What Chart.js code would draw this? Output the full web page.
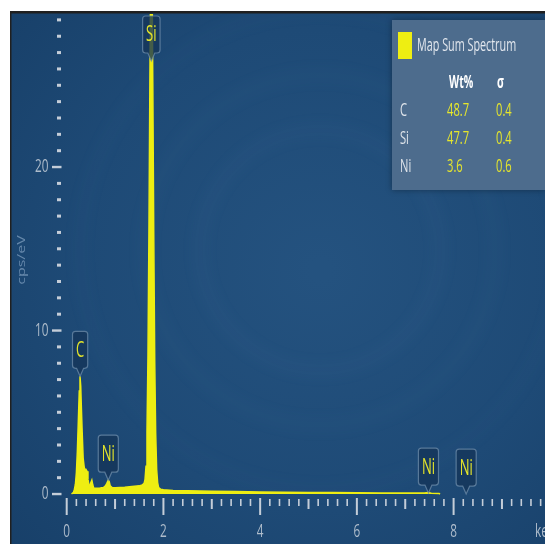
<!DOCTYPE html>
<html>
<head>
<meta charset="utf-8">
<script src="https://cdn.jsdelivr.net/npm/chart.js@4/dist/chart.umd.min.js"></script>
<style>
  html, body { margin: 0; padding: 0; background: #ffffff; }
  #wrap { width: 545px; height: 544px; position: relative; }
</style>
</head>
<body>
<div id="wrap"><canvas id="spectrum" width="545" height="544"></canvas></div>
<script>
// EDS spectrum: energy (keV) and intensity (cps/eV)
const energyKeV = [
  0.10, 0.14, 0.16, 0.18, 0.20, 0.22, 0.24, 0.26, 0.275, 0.29, 0.30, 0.32, 0.34, 0.36, 0.38, 0.40,
  0.42, 0.44, 0.46, 0.48, 0.50, 0.52, 0.54, 0.56, 0.60, 0.64, 0.68, 0.72, 0.76, 0.80, 0.83, 0.86,
  0.88, 0.90, 0.94, 1.00, 1.10, 1.20, 1.30, 1.40, 1.50, 1.56, 1.60, 1.62, 1.64, 1.66, 1.68, 1.70,
  1.72, 1.74, 1.75, 1.76, 1.78, 1.80, 1.82, 1.84, 1.86, 1.88, 1.90, 1.94, 2.00, 2.20, 2.50, 3.00,
  3.50, 4.00, 4.50, 5.00, 5.50, 6.00, 6.50, 7.00, 7.40, 7.47, 7.54, 7.70, 7.72
];
const countsPerEV = [
  0.00, 0.10, 0.30, 0.60, 1.30, 2.60, 4.40, 6.30, 7.20, 6.60, 5.60, 3.80, 2.20, 1.70, 1.30, 1.50,
  1.40, 0.90, 0.55, 0.50, 0.70, 0.85, 0.55, 0.35, 0.35, 0.35, 0.35, 0.38, 0.40, 0.50, 0.65, 0.85,
  0.75, 0.50, 0.40, 0.38, 0.40, 0.42, 0.45, 0.48, 0.50, 0.55, 0.65, 0.90, 1.70, 3.80, 8.30, 15.8,
  25.2, 33.6, 37.0, 33.6, 25.2, 15.8, 8.10, 3.70, 1.50, 0.70, 0.40, 0.30, 0.26, 0.22, 0.20, 0.17,
  0.15, 0.13, 0.11, 0.10, 0.09, 0.08, 0.07, 0.06, 0.06, 0.09, 0.05, 0.04, 0.00
];

// Peak identification markers
const peakElements = ['C', 'Ni', 'Si', 'Ni', 'Ni'];
const peakEnergies = [0.277, 0.86, 1.75, 7.48, 8.26];
const peakHeights  = [7.2, 0.85, 37.0, 0.06, 0.0];

// Axis tick labels
const xTickLabels = [0, 2, 4, 6, 8];
const yTickLabels = [0, 10, 20];

// Quantification table
const quantElements = ['C', 'Si', 'Ni'];
const quantWtPct    = ['48.7', '47.7', '3.6'];
const quantSigma    = ['0.4', '0.4', '0.6'];

const YELLOW = '#eeee12';
const FONT = '"Open Sans", "Noto Sans", sans-serif';
const SQUEEZE = 0.62;

function squeezedText(ctx, str, x, y, align, font, color, sx) {
  ctx.save();
  ctx.font = font;
  ctx.fillStyle = color;
  ctx.textBaseline = 'middle';
  ctx.textAlign = align;
  ctx.translate(x, y);
  ctx.scale(sx === undefined ? SQUEEZE : sx, 1);
  ctx.fillText(str, 0, 0);
  ctx.restore();
}

// Dark blue panel with soft rings and a frame on top/left
const panelBackground = {
  id: 'panelBackground',
  beforeDraw(chart) {
    const ctx = chart.ctx;
    ctx.save();
    ctx.fillStyle = '#ffffff';
    ctx.fillRect(0, 0, chart.width, chart.height);
    const g = ctx.createRadialGradient(320, 270, 10, 320, 270, 430);
    g.addColorStop(0, '#24527f');
    g.addColorStop(0.55, '#1e4a76');
    g.addColorStop(1, '#173f68');
    ctx.fillStyle = g;
    ctx.fillRect(11, 13, chart.width - 11, chart.height - 13);
    ctx.beginPath();
    ctx.rect(11, 13, chart.width - 11, chart.height - 13);
    ctx.clip();
    ctx.filter = 'blur(7px)';
    [120, 175, 240].forEach((r, i) => {
      ctx.beginPath();
      ctx.arc(320, 250, r, 0, Math.PI * 2);
      ctx.strokeStyle = 'rgba(120,160,200,' + (0.045 - i * 0.01) + ')';
      ctx.lineWidth = 12;
      ctx.stroke();
    });
    ctx.filter = 'none';
    ctx.restore();
    ctx.save();
    ctx.fillStyle = '#202020';
    ctx.fillRect(10, 11, chart.width - 10, 2.5);
    ctx.fillRect(10, 11, 1.5, chart.height - 11);
    ctx.restore();
  }
};

// Tick marks, tick labels and axis titles
const spectrumAxes = {
  id: 'spectrumAxes',
  afterDraw(chart) {
    const ctx = chart.ctx;
    const xs = chart.scales.x, ys = chart.scales.y;
    ctx.save();
    ctx.fillStyle = '#c4cdd8';
    for (let v = 0; v <= 29; v++) {
      const py = ys.getPixelForValue(v);
      if (v % 10 === 0) ctx.fillRect(52, py - 1.2, 9.5, 2.4);
      else ctx.fillRect(57, py - 1.5, 4, 3);
    }
    for (let i = 0; i <= 49; i++) {
      const px = xs.getPixelForValue(i * 0.2);
      if (i % 10 === 0) ctx.fillRect(px - 1, 498, 2, 17);
      else if (i % 5 === 0) ctx.fillRect(px - 1, 499, 2, 10);
      else ctx.fillRect(px - 0.8, 499, 1.6, 7);
    }
    ctx.restore();
    yTickLabels.forEach(v => {
      squeezedText(ctx, String(v), 48.5, ys.getPixelForValue(v), 'right', '19px ' + FONT, '#aebccb');
    });
    xTickLabels.forEach(v => {
      squeezedText(ctx, String(v), xs.getPixelForValue(v), 532, 'center', '19px ' + FONT, '#aebccb');
    });
    squeezedText(ctx, 'keV', 535, 532, 'left', '19px ' + FONT, '#aebccb');
    ctx.save();
    ctx.translate(22, 260);
    ctx.rotate(-Math.PI / 2);
    ctx.scale(1, 0.7);
    ctx.font = '16px ' + FONT;
    ctx.fillStyle = '#6688ab';
    ctx.textAlign = 'center';
    ctx.textBaseline = 'middle';
    ctx.fillText('cps/eV', 0, 0);
    ctx.restore();
  }
};

// Element markers with a pointer down to each peak
const peakMarkers = {
  id: 'peakMarkers',
  afterDatasetsDraw(chart) {
    const ctx = chart.ctx;
    const xs = chart.scales.x, ys = chart.scales.y;
    const area = chart.chartArea;
    const font = '21px ' + FONT;
    peakElements.forEach((el, i) => {
      const tipX = xs.getPixelForValue(peakEnergies[i]);
      let tipY = ys.getPixelForValue(peakHeights[i]);
      const h = 37, ptr = 8;
      ctx.save();
      ctx.font = font;
      const w = ctx.measureText(el).width * SQUEEZE + 7;
      let top = tipY - ptr - h;
      if (top < area.top + 2) { top = area.top + 2; tipY = top + h + ptr; }
      const left = tipX - w / 2;
      ctx.beginPath();
      ctx.moveTo(left + 3, top);
      ctx.lineTo(left + w - 3, top);
      ctx.quadraticCurveTo(left + w, top, left + w, top + 3);
      ctx.lineTo(left + w, top + h - 3);
      ctx.quadraticCurveTo(left + w, top + h, left + w - 3, top + h);
      ctx.lineTo(tipX + 3.5, top + h);
      ctx.lineTo(tipX, tipY);
      ctx.lineTo(tipX - 3.5, top + h);
      ctx.lineTo(left + 3, top + h);
      ctx.quadraticCurveTo(left, top + h, left, top + h - 3);
      ctx.lineTo(left, top + 3);
      ctx.quadraticCurveTo(left, top, left + 3, top);
      ctx.closePath();
      ctx.fillStyle = 'rgba(20,52,88,0.78)';
      ctx.fill();
      ctx.strokeStyle = 'rgba(110,140,170,0.75)';
      ctx.lineWidth = 1.2;
      ctx.stroke();
      ctx.restore();
      squeezedText(ctx, el, tipX, top + h / 2 + 1, 'center', font, '#e4e42a');
    });
  }
};

// Quantification panel, top right
const quantPanel = {
  id: 'quantPanel',
  afterDraw(chart) {
    const ctx = chart.ctx;
    ctx.save();
    ctx.shadowColor = 'rgba(0,0,0,0.35)';
    ctx.shadowBlur = 6;
    ctx.fillStyle = '#4d6c8d';
    ctx.fillRect(392, 20, 153, 170);
    ctx.restore();
    ctx.save();
    ctx.fillStyle = YELLOW;
    ctx.fillRect(398, 32, 14, 27);
    ctx.restore();
    squeezedText(ctx, 'Map Sum Spectrum', 417, 46, 'left', '18px ' + FONT, '#e2e7ee', 0.6);
    squeezedText(ctx, 'Wt%', 449, 83, 'left', 'bold 17px ' + FONT, '#ffffff');
    squeezedText(ctx, 'σ', 497, 83, 'left', 'bold 17px ' + FONT, '#ffffff');
    const rows = [111, 139, 167];
    quantElements.forEach((el, i) => {
      squeezedText(ctx, el, 400, rows[i], 'left', '18px ' + FONT, '#dfe4ea');
      squeezedText(ctx, quantWtPct[i], 447, rows[i], 'left', '18px ' + FONT, '#e6e62c');
      squeezedText(ctx, quantSigma[i], 496, rows[i], 'left', '18px ' + FONT, '#e6e62c');
    });
  }
};

new Chart(document.getElementById('spectrum'), {
  type: 'line',
  data: {
    datasets: [{
      label: 'Map Sum Spectrum',
      data: energyKeV.map((e, i) => ({ x: e, y: countsPerEV[i] })),
      borderColor: YELLOW,
      backgroundColor: YELLOW,
      borderWidth: 1.5,
      fill: 'origin',
      pointRadius: 0,
      tension: 0,
      clip: 0
    }]
  },
  options: {
    responsive: false,
    animation: false,
    events: [],
    layout: { padding: { left: 66.7, right: 0, top: 14, bottom: 48 } },
    plugins: { legend: { display: false }, tooltip: { enabled: false } },
    scales: {
      x: { type: 'linear', min: 0, max: 9.89, display: false },
      y: { type: 'linear', min: -0.12, max: 29.36, display: false }
    }
  },
  plugins: [panelBackground, peakMarkers, spectrumAxes, quantPanel]
});
</script>
</body>
</html>
